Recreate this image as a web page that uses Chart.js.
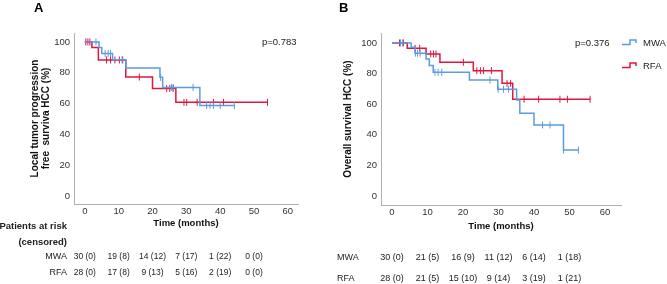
<!DOCTYPE html>
<html>
<head>
<meta charset="utf-8">
<script src="https://cdn.jsdelivr.net/npm/chart.js@4.4.1/dist/chart.umd.min.js"></script>
<style>
  body { margin: 0; width: 667px; height: 284px; background: #fff; position: relative; overflow: hidden;
         font-family: "Liberation Sans", Arial, sans-serif; color: #222; }
  canvas { position: absolute; top: 0; }
  .t { position: absolute; white-space: nowrap; line-height: 1; }
  .lbl { font-size: 9.5px; }
</style>
</head>
<body>
<canvas id="chartA" width="333" height="232" style="left:0"></canvas>
<canvas id="chartB" width="334" height="232" style="left:333px"></canvas>

<div class="t" style="left:34px;top:1px;font-weight:bold;font-size:13px;color:#000">A</div>
<div class="t" style="left:339px;top:1px;font-weight:bold;font-size:13px;color:#000">B</div>
<div class="t lbl" style="left:262px;top:37px">p=0.783</div>
<div class="t lbl" style="left:575px;top:38px">p=0.376</div>

<!-- legend of panel B -->
<svg class="t" style="left:622px;top:39px" width="16" height="7"><polyline points="0,5.5 8,5.5 8,1 14,1 14,4" fill="none" stroke="#5b9be0" stroke-width="1.5"/></svg>
<div class="t lbl" style="left:643px;top:38px">MWA</div>
<svg class="t" style="left:622px;top:62px" width="16" height="7"><polyline points="0,5.5 8,5.5 8,1 14,1 14,4" fill="none" stroke="#e0163f" stroke-width="1.5"/></svg>
<div class="t lbl" style="left:643px;top:61px">RFA</div>

<div class="t" style="right:600px;top:218px;font-weight:bold;font-size:9.5px;text-align:right;line-height:16px">Patients at risk<br>(censored)</div>

<script>
// ---- data ----
const xTicks = [0, 10, 20, 30, 40, 50, 60];
const yTicks = [0, 20, 40, 60, 80, 100];
const riskTimes = [0, 10, 20, 30, 40, 50];

// panel A: local tumor progression free survival
const aMwaTimes = [0, 4.2, 5.0, 8.2, 12.1, 22.2, 23.0, 34.0, 44.2];
const aMwaSurv  = [100, 96.4, 92.5, 88.4, 83.0, 77.0, 70.5, 58.8, 58.8];
const aMwaCens  = [3.3, 6.0, 6.9, 7.6, 11.0, 22.4, 25.6, 26.1, 32.0, 36.0, 37.0, 38.0, 40.0, 44.2];
const aRfaTimes = [0, 2.1, 4.0, 12.1, 20.0, 26.9, 54.0];
const aRfaSurv  = [100, 96.4, 88.3, 77.2, 69.8, 60.8, 60.8];
const aRfaCens  = [0.3, 0.9, 1.5, 6.4, 7.6, 8.9, 10.2, 11.2, 16.1, 24.2, 25.1, 26.1, 29.3, 30.1, 33.2, 38.0, 41.0, 54.0];
const aMwaRisk = [30, 19, 14, 7, 1, 0];
const aMwaRiskCens = [0, 8, 12, 17, 22, 0];
const aRfaRisk = [28, 17, 9, 5, 2, 0];
const aRfaRiskCens = [0, 8, 13, 16, 19, 0];

// panel B: overall survival
const bMwaTimes = [0, 5.4, 6.5, 9.6, 10.5, 11.6, 21.8, 29.8, 35.1, 36.0, 40.0, 48.3, 52.5];
const bMwaSurv  = [100, 97.2, 93.3, 89.5, 85.2, 80.8, 75.8, 69.7, 62.7, 54.0, 46.4, 30.0, 30.0];
const bMwaCens  = [2.4, 3.0, 6.6, 7.2, 7.9, 12.1, 13.0, 14.0, 27.6, 29.9, 31.4, 32.8, 42.4, 44.5, 48.3, 52.5];
const bRfaTimes = [0, 4.3, 9.6, 13.5, 22.9, 31.0, 34.0, 55.8];
const bRfaSurv  = [100, 96.5, 92.8, 87.4, 81.9, 73.6, 63.2, 63.2];
const bRfaCens  = [2.1, 3.2, 6.5, 7.8, 10.9, 11.7, 12.4, 20.1, 23.9, 24.9, 25.8, 28.0, 32.4, 33.4, 37.2, 41.3, 47.3, 49.4, 55.8];
const bMwaRisk = [30, 21, 16, 11, 6, 1];
const bMwaRiskCens = [0, 5, 9, 12, 14, 18];
const bRfaRisk = [28, 21, 15, 9, 3, 1];
const bRfaRiskCens = [0, 5, 10, 14, 19, 21];

const BLUE = '#5b9be0';
const RED = '#e0163f';
const FONT = '"Liberation Sans", Arial, sans-serif';

// value of the step curve at time t (for placing censor ticks on the curve)
function levelAt(times, surv, t) {
    let s = surv[0];
    for (let i = 0; i < times.length; i++) if (times[i] <= t + 1e-9) s = surv[i];
    return s;
}

function kmSets(times, surv, cens, color) {
    return [
        // 'before' in Chart.js = horizontal first, then the drop at the next time
        { type: 'line', data: times.map((t, i) => ({ x: t, y: surv[i] })), stepped: 'before',
          borderColor: color, borderWidth: 1.5, pointRadius: 0, fill: false },
        { type: 'scatter', data: cens.map(t => ({ x: t, y: levelAt(times, surv, t) })),
          pointStyle: 'line', rotation: 90, pointRadius: 3.5, borderColor: color, borderWidth: 1 }
    ];
}

function makeChart(canvas, datasets, cfg) {
    return new Chart(canvas, {
        data: { datasets },
        options: {
            responsive: false, animation: false, events: [],
            layout: { padding: { top: 33, right: cfg.padRight, left: 0, bottom: 0 } },
            plugins: { legend: { display: false }, tooltip: { enabled: false } },
            scales: {
                x: {
                    type: 'linear', min: cfg.xMin, max: cfg.xMax,
                    afterBuildTicks: s => { s.ticks = xTicks.map(v => ({ value: v })); },
                    afterFit: s => { s.height = cfg.xHeight; },
                    grid: { drawOnChartArea: false, drawTicks: false },
                    border: { display: true, color: '#b0b0b0', width: 1 },
                    ticks: { padding: 2, color: '#333', font: { size: 9.5, family: FONT } },
                    title: { display: true, text: 'Time (months)', color: '#111',
                             font: { size: 9.5, weight: 'bold', family: FONT, lineHeight: 1.2 },
                             padding: { top: 0, bottom: cfg.xTitlePad } }
                },
                y: {
                    type: 'linear', min: cfg.yMin, max: cfg.yMax,
                    afterBuildTicks: s => { s.ticks = yTicks.map(v => ({ value: v })); },
                    afterFit: s => { s.width = cfg.yWidth; },
                    grid: { drawOnChartArea: false, drawTicks: false },
                    border: { display: true, color: '#b0b0b0', width: 1 },
                    ticks: { padding: 4, color: '#333', font: { size: 9.5, family: FONT } },
                    title: { display: true, text: cfg.yTitle, color: '#111',
                             font: { size: 10, weight: 'bold', family: FONT, lineHeight: 1.05 },
                             padding: { top: cfg.yTitlePad, bottom: 0 } }
                }
            }
        }
    });
}

const chartA = makeChart(document.getElementById('chartA'),
    [...kmSets(aMwaTimes, aMwaSurv, aMwaCens, BLUE), ...kmSets(aRfaTimes, aRfaSurv, aRfaCens, RED)],
    { padRight: 35, xMin: -3.2, xMax: 63, yMin: -5.2, yMax: 105.8, xHeight: 28, yWidth: 74,
      xTitlePad: 3, yTitlePad: 30, yTitle: ['Local tumor progression', 'free  surviva HCC (%)'] });

const chartB = makeChart(document.getElementById('chartB'),
    [...kmSets(bMwaTimes, bMwaSurv, bMwaCens, BLUE), ...kmSets(bRfaTimes, bRfaSurv, bRfaCens, RED)],
    { padRight: 46, xMin: -3.1, xMax: 64.5, yMin: -5.9, yMax: 106.5, xHeight: 27, yWidth: 48,
      xTitlePad: 0, yTitlePad: 10, yTitle: 'Overall survival HCC (%)' });

// --- risk table under each panel, aligned on the x scale ---
function addText(text, left, centerY, size, align) {
    const d = document.createElement('div');
    d.className = 't';
    d.textContent = text;
    d.style.fontSize = size + 'px';
    d.style.top = (centerY - size / 2) + 'px';
    if (align === 'center') { d.style.left = left + 'px'; d.style.transform = 'translateX(-50%)'; }
    else if (align === 'right') { d.style.right = (667 - left) + 'px'; }
    else d.style.left = left + 'px';
    document.body.appendChild(d);
}

function riskRow(chart, offsetX, label, labelX, labelAlign, risk, cens, y, size) {
    addText(label, labelX, y, 9, labelAlign);
    risk.forEach((n, i) => {
        addText(`${n} (${cens[i]})`, offsetX + chart.scales.x.getPixelForValue(riskTimes[i]), y, size, 'center');
    });
}

riskRow(chartA, 0, 'MWA', 67, 'right', aMwaRisk, aMwaRiskCens, 256, 8.5);
riskRow(chartA, 0, 'RFA', 67, 'right', aRfaRisk, aRfaRiskCens, 272, 8.5);
riskRow(chartB, 333, 'MWA', 337, 'left', bMwaRisk, bMwaRiskCens, 257, 9);
riskRow(chartB, 333, 'RFA', 337, 'left', bRfaRisk, bRfaRiskCens, 278, 9);
</script>
</body>
</html>
